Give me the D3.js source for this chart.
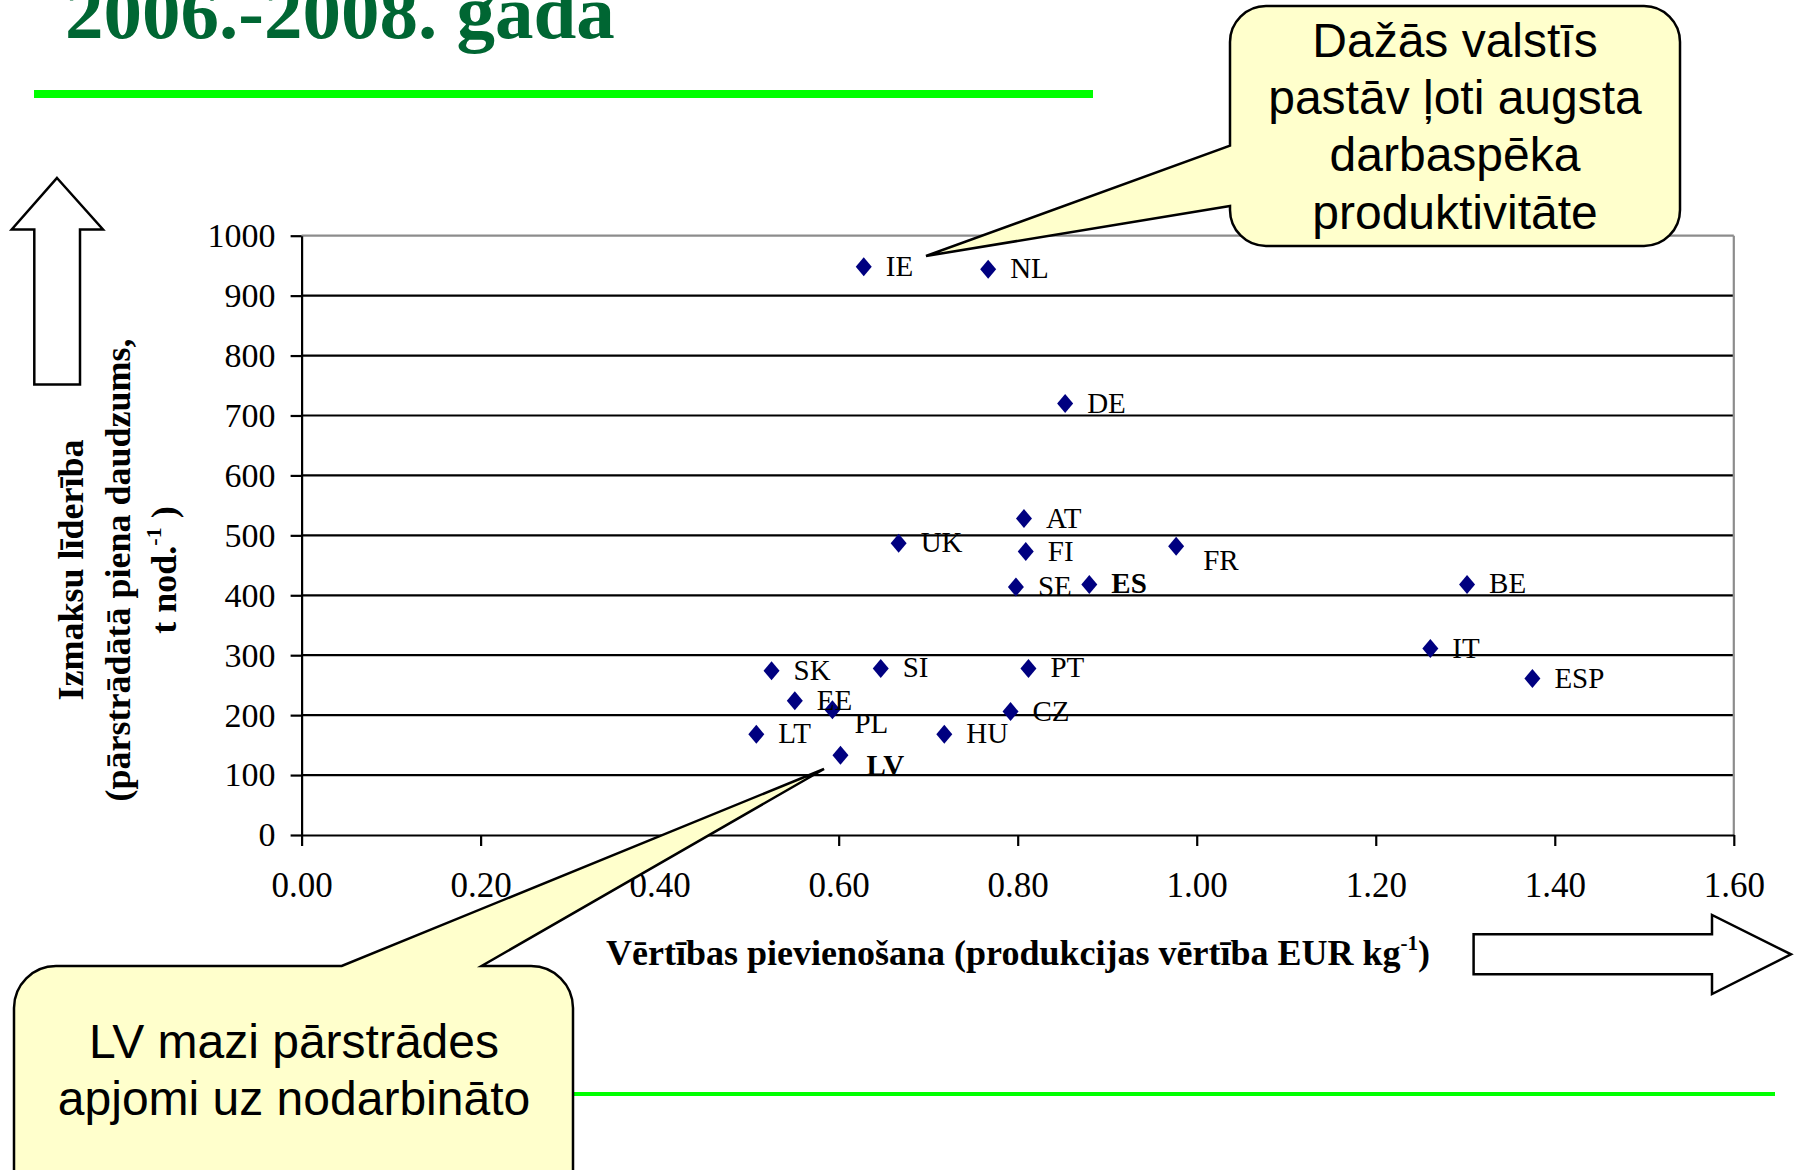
<!DOCTYPE html>
<html>
<head>
<meta charset="utf-8">
<script src="https://cdn.jsdelivr.net/npm/d3@7"></script>
<style>
  html, body { margin: 0; padding: 0; background: #ffffff; }
  svg { display: block; }
</style>
</head>
<body>
<svg id="chart" width="1798" height="1170"></svg>
<script>
// ---- data ----
const countries   = ["IE","NL","DE","AT","UK","FI","FR","SE","ES","BE","IT","ESP","SK","SI","PT","EE","PL","CZ","LT","HU","LV"];
const valueAdded  = [0.628,0.767,0.853,0.807,0.667,0.809,0.977,0.798,0.880,1.302,1.261,1.375,0.525,0.647,0.812,0.551,0.593,0.792,0.508,0.718,0.602];
const processedMilk = [948,944,720,528,487,473,482,414,418,418,311,261,274,278,278,224,209,206,168,168,133];
const boldLabels  = ["ES","LV"];
const xTicks = [0,0.2,0.4,0.6,0.8,1.0,1.2,1.4,1.6];
const yTicks = [0,100,200,300,400,500,600,700,800,900,1000];
const titleText = "2006.-2008. gada";
const calloutTop = ["Dažās valstīs","pastāv ļoti augsta","darbaspēka","produktivitāte"];
const calloutBottom = ["LV mazi pārstrādes","apjomi uz nodarbināto"];

const points = countries.map((c,i)=>({c, x:valueAdded[i], y:processedMilk[i]}));

const svg = d3.select("#chart");
svg.append("rect").attr("width",1798).attr("height",1170).attr("fill","#fff");

const serif = "'Liberation Serif','Times New Roman',serif";
const sans = "'Liberation Sans',Arial,sans-serif";

// ---- title & decorative lines ----
svg.append("text").attr("x",65).attr("y",38)
  .attr("font-family",serif).attr("font-weight","bold").attr("font-size",77)
  .attr("fill","#006633").text(titleText);
svg.append("line").attr("x1",34).attr("x2",1093).attr("y1",94).attr("y2",94)
  .attr("stroke","#00ff00").attr("stroke-width",8);
svg.append("line").attr("x1",34).attr("x2",1775).attr("y1",1094).attr("y2",1094)
  .attr("stroke","#00ff00").attr("stroke-width",4);

// ---- scales ----
const x = d3.scaleLinear().domain([0,1.6]).range([301.6,1733.8]);
const y = d3.scaleLinear().domain([0,1000]).range([835,235.7]);

// gridlines
const g = svg.append("g");
g.selectAll("line.grid").data(yTicks.filter(v=>v>0)).join("line")
  .attr("x1",x(0)).attr("x2",x(1.6))
  .attr("y1",d=>y(d)).attr("y2",d=>y(d))
  .attr("stroke",d=>d===1000?"#8c8c8c":"#000").attr("stroke-width",2.2);
// right border
g.append("line").attr("x1",x(1.6)).attr("x2",x(1.6)).attr("y1",y(1000)).attr("y2",y(0))
  .attr("stroke","#8c8c8c").attr("stroke-width",2.2);

// y axis
const yAxis = d3.axisLeft(y).tickValues(yTicks).tickSize(11).tickSizeOuter(0).tickPadding(15).tickFormat(d3.format("d"));
const ya = svg.append("g").attr("transform",`translate(${x(0)},0)`).call(yAxis);
ya.select(".domain").attr("stroke","#000").attr("stroke-width",2.2);
ya.selectAll(".tick line").attr("stroke","#000").attr("stroke-width",2.2);
ya.selectAll(".tick text").attr("font-family",serif).attr("font-size",34).attr("fill","#000");

// x axis
const xAxis = d3.axisBottom(x).tickValues(xTicks).tickSize(11).tickSizeOuter(0).tickFormat(d3.format(".2f"));
const xa = svg.append("g").attr("transform",`translate(0,${y(0)})`).call(xAxis);
xa.select(".domain").attr("stroke","#000").attr("stroke-width",2.2);
xa.selectAll(".tick line").attr("stroke","#000").attr("stroke-width",2.2);
xa.selectAll(".tick text").attr("font-family",serif).attr("font-size",35).attr("fill","#000")
  .attr("y",62).attr("dy",0);

// ---- points ----
const labelOffset = {FR:[27,24], PL:[22,23], LV:[26,20]};
const diamond = "M0,-9.5L8,0L0,9.5L-8,0Z";
const pg = svg.append("g");
pg.selectAll("path").data(points).join("path")
  .attr("d",diamond).attr("fill","#000080")
  .attr("transform",d=>`translate(${x(d.x)},${y(d.y)})`);
pg.selectAll("text").data(points).join("text")
  .attr("x",d=>x(d.x)+(labelOffset[d.c]?labelOffset[d.c][0]:22))
  .attr("y",d=>y(d.y)+(labelOffset[d.c]?labelOffset[d.c][1]:9))
  .attr("font-family",serif).attr("font-size",29)
  .attr("font-weight",d=>boldLabels.includes(d.c)?"bold":"normal")
  .attr("fill","#000").text(d=>d.c);

// ---- axis titles ----
const xt = svg.append("text").attr("x",1018).attr("y",965).attr("text-anchor","middle")
  .attr("font-family",serif).attr("font-weight","bold").attr("font-size",36).attr("fill","#000");
xt.append("tspan").text("Vērtības pievienošana (produkcijas vērtība EUR kg");
xt.append("tspan").attr("font-size",21).attr("dy",-15).text("-1");
xt.append("tspan").attr("dy",15).text(")");

const ytLines = [["Izmaksu līderība",83],["(pārstrādātā piena daudzums,",130]];
ytLines.forEach(([t,px])=>{
  svg.append("text").attr("transform",`translate(${px},570) rotate(-90)`).attr("text-anchor","middle")
    .attr("font-family",serif).attr("font-weight","bold").attr("font-size",36).attr("fill","#000").text(t);
});
const yt3 = svg.append("text").attr("transform",`translate(176,570) rotate(-90)`).attr("text-anchor","middle")
  .attr("font-family",serif).attr("font-weight","bold").attr("font-size",36).attr("fill","#000");
yt3.append("tspan").text("t nod.");
yt3.append("tspan").attr("font-size",22).attr("dy",-15).text("-1");
yt3.append("tspan").attr("dy",15).text(" )");

// ---- block arrows ----
svg.append("path")
  .attr("d","M57,178 L103,229.5 L80,229.5 L80,384.5 L34.3,384.5 L34.3,229.5 L11.7,229.5 Z")
  .attr("fill","#fff").attr("stroke","#000").attr("stroke-width",2.5).attr("stroke-linejoin","miter");
svg.append("path")
  .attr("d","M1473.6,934.3 L1712,934.3 L1712,915 L1791,954.3 L1712,994 L1712,974.3 L1473.6,974.3 Z")
  .attr("fill","#fff").attr("stroke","#000").attr("stroke-width",2.5);

// ---- callouts ----
function calloutTopPath(){
  const x0=1230,x1=1680,y0=6,y1=246,r=36;
  const tip=[926,256];
  return `M${x0+r},${y0} H${x1-r} A${r},${r} 0 0 1 ${x1},${y0+r} V${y1-r} A${r},${r} 0 0 1 ${x1-r},${y1}`+
    ` H${x0+r} A${r},${r} 0 0 1 ${x0},${y1-r} V206 L${tip[0]},${tip[1]} L${x0},145.6 V${y0+r} A${r},${r} 0 0 1 ${x0+r},${y0} Z`;
}
svg.append("path").attr("d",calloutTopPath()).attr("fill","#ffffcc").attr("stroke","#000").attr("stroke-width",2.5);
calloutTop.forEach((t,i)=>{
  svg.append("text").attr("x",1455).attr("y",57+i*57.2).attr("text-anchor","middle")
    .attr("font-family",sans).attr("font-size",48).attr("fill","#000").text(t);
});

function calloutBottomPath(){
  const x0=14,x1=573,y0=966,y1=1240,r=42;
  const tip=[824,769];
  return `M${x0+r},${y0} H341.7 L${tip[0]},${tip[1]} L481.6,${y0} H${x1-r} A${r},${r} 0 0 1 ${x1},${y0+r} V${y1-r}`+
    ` A${r},${r} 0 0 1 ${x1-r},${y1} H${x0+r} A${r},${r} 0 0 1 ${x0},${y1-r} V${y0+r} A${r},${r} 0 0 1 ${x0+r},${y0} Z`;
}
svg.append("path").attr("d",calloutBottomPath()).attr("fill","#ffffcc").attr("stroke","#000").attr("stroke-width",2.5);
calloutBottom.forEach((t,i)=>{
  svg.append("text").attr("x",294).attr("y",1058+i*57).attr("text-anchor","middle")
    .attr("font-family",sans).attr("font-size",48).attr("fill","#000").text(t);
});
</script>
</body>
</html>
